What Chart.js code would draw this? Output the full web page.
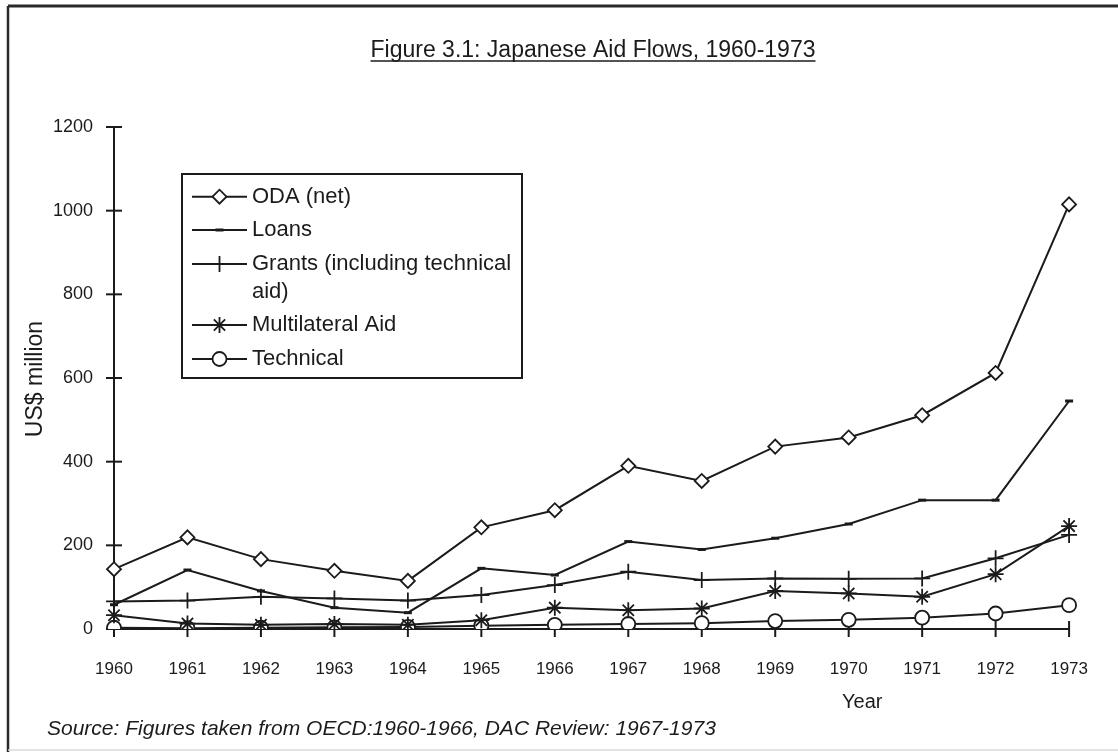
<!DOCTYPE html>
<html><head><meta charset="utf-8">
<script src="https://cdn.jsdelivr.net/npm/chart.js@4/dist/chart.umd.min.js"></script>
<style>
html,body{margin:0;padding:0;background:#fff;}
canvas{display:block}
</style></head><body>
<canvas id="c" width="1118" height="752"></canvas>
<script>
// ---- data ----
const years = ['1960','1961','1962','1963','1964','1965','1966','1967','1968','1969','1970','1971','1972','1973'];
const odaNet       = [143,219,167,139,115,243,284,390,354,436,458,511,612,1015];
const loans        = [58,141,91,51,39,145,129,209,190,217,251,308,308,545];
const grants       = [66,68,77,73,68,81,105,137,117,121,120,121,169,225];
const multilateral = [33,13,10,12,10,21,51,45,49,91,85,77,131,246];
const technical    = [3,2,3,4,5,8,10,12,14,19,22,27,37,57];
const seriesNames  = ['ODA (net)','Loans','Grants (including technical aid)','Multilateral Aid','Technical'];
const legendLines  = [['ODA (net)'],['Loans'],['Grants (including technical','aid)'],['Multilateral Aid'],['Technical']];
const yTickValues  = [0,200,400,600,800,1000,1200];
const titleText    = 'Figure 3.1: Japanese Aid Flows, 1960-1973';
const yTitle       = 'US$ million';
const xTitle       = 'Year';
const sourceText   = 'Source: Figures taken from OECD:1960-1966, DAC Review: 1967-1973';

const INK = '#1b1b1b';
const FONT = '"Liberation Sans", Arial, Helvetica, sans-serif';

function ds(label, data, style, radius, bw){
  return {label, data, borderColor:INK, borderWidth:2, backgroundColor:'#fff',
    pointStyle:style, pointRadius:radius, pointBorderColor:INK, pointBackgroundColor:'#fff',
    pointBorderWidth:bw, tension:0, fill:false};
}
const datasets = [
  ds(seriesNames[0], odaNet, 'rectRot', 7, 1.8),
  ds(seriesNames[1], loans, 'line', 4, 3),
  ds(seriesNames[2], grants, 'cross', 8, 1.8),
  ds(seriesNames[3], multilateral, 'star', 8, 1.8),
  ds(seriesNames[4], technical, 'circle', 7, 1.8)
];
datasets.forEach((d,i)=>{ d.legendLines = legendLines[i]; });

const framePlugin = {
  id:'frame',
  beforeDraw(chart){
    const ctx = chart.ctx;
    ctx.save();
    ctx.fillStyle='#fff'; ctx.fillRect(0,0,chart.width,chart.height);
    ctx.strokeStyle='#2a2a2a'; ctx.lineWidth=3;
    ctx.beginPath(); ctx.moveTo(8,6); ctx.lineTo(1118,6); ctx.stroke();
    ctx.lineWidth=2.5;
    ctx.beginPath(); ctx.moveTo(8,6); ctx.lineTo(8,752); ctx.stroke();
    ctx.strokeStyle='#d8d8d8'; ctx.lineWidth=1.5;
    ctx.beginPath(); ctx.moveTo(8,750); ctx.lineTo(1118,750); ctx.stroke();
    // title
    ctx.fillStyle=INK; ctx.font='23px '+FONT; ctx.textAlign='center'; ctx.textBaseline='alphabetic';
    const tx=593, ty=57;
    ctx.fillText(titleText, tx, ty);
    const w = ctx.measureText(titleText).width;
    ctx.strokeStyle=INK; ctx.lineWidth=1.5;
    ctx.beginPath(); ctx.moveTo(tx-w/2, ty+4); ctx.lineTo(tx+w/2, ty+4); ctx.stroke();
    ctx.restore();
  },
  beforeDatasetsDraw(chart){
    const ctx = chart.ctx, xs = chart.scales.x, ys = chart.scales.y;
    const a = chart.chartArea;
    ctx.save();
    ctx.strokeStyle=INK; ctx.lineWidth=2;
    const y0 = ys.getPixelForValue(0);
    const x0 = xs.getPixelForValue(0);
    ctx.beginPath(); ctx.moveTo(x0, a.top); ctx.lineTo(x0, y0); ctx.stroke();
    ys.ticks.forEach(t=>{ const py = ys.getPixelForValue(t.value);
      ctx.beginPath(); ctx.moveTo(x0-8,py); ctx.lineTo(x0+8,py); ctx.stroke(); });
    ctx.beginPath(); ctx.moveTo(x0, y0); ctx.lineTo(xs.getPixelForValue(years.length-1), y0); ctx.stroke();
    years.forEach((_,i)=>{ const px = xs.getPixelForValue(i);
      ctx.beginPath(); ctx.moveTo(px,y0-8); ctx.lineTo(px,y0+8); ctx.stroke(); });
    ctx.restore();
  },
  afterDraw(chart){
    const ctx = chart.ctx;
    ctx.save();
    ctx.fillStyle=INK;
    // y title
    ctx.font='23px '+FONT; ctx.textAlign='center'; ctx.textBaseline='middle';
    ctx.translate(36, 379); ctx.rotate(-Math.PI/2); ctx.fillText(yTitle,0,0);
    ctx.setTransform(1,0,0,1,0,0);
    ctx.font='20px '+FONT; ctx.textAlign='left'; ctx.textBaseline='middle';
    ctx.fillText(xTitle, 842, 702);
    ctx.font='italic 21px '+FONT;
    ctx.fillText(sourceText, 47, 729);
    // legend
    ctx.strokeStyle=INK; ctx.lineWidth=2;
    ctx.strokeRect(182,174,340,204);
    const rows=[196.7,230,264,325,359];
    ctx.font='22px '+FONT; ctx.textBaseline='middle';
    chart.data.datasets.forEach((d,i)=>{
      const y=rows[i];
      ctx.strokeStyle=INK; ctx.lineWidth=2;
      ctx.beginPath(); ctx.moveTo(192,y); ctx.lineTo(247,y); ctx.stroke();
      ctx.fillStyle='#fff'; ctx.lineWidth=d.pointBorderWidth;
      Chart.helpers.drawPoint(ctx,{pointStyle:d.pointStyle,radius:d.pointRadius,borderWidth:d.pointBorderWidth,rotation:0},219.5,y);
      ctx.fillStyle=INK;
      d.legendLines.forEach((ln,j)=>ctx.fillText(ln,252,y+j*28));
    });
    ctx.restore();
  }
};

new Chart(document.getElementById('c'), {
  type:'line',
  data:{labels:years, datasets},
  options:{
    responsive:false, animation:false, events:[],
    layout:{padding:{left:20,right:41,top:127,bottom:63}},
    plugins:{legend:{display:false}, title:{display:false}, tooltip:{enabled:false}},
    scales:{
      x:{type:'category', offset:false,
         grid:{display:false, drawTicks:false}, border:{display:false},
         ticks:{color:INK, font:{family:FONT,size:17}, padding:30, maxRotation:0, autoSkip:false},
         afterFit(s){ s.height=60; }},
      y:{min:0, max:1200,
         grid:{display:false, drawTicks:false}, border:{display:false},
         afterBuildTicks(s){ s.ticks = yTickValues.map(v=>({value:v})); },
         ticks:{color:INK, font:{family:FONT,size:18}, padding:21, callback:(v)=>String(v)},
         afterFit(s){ s.width=94; }}
    }
  },
  plugins:[framePlugin]
});
</script>
</body></html>
